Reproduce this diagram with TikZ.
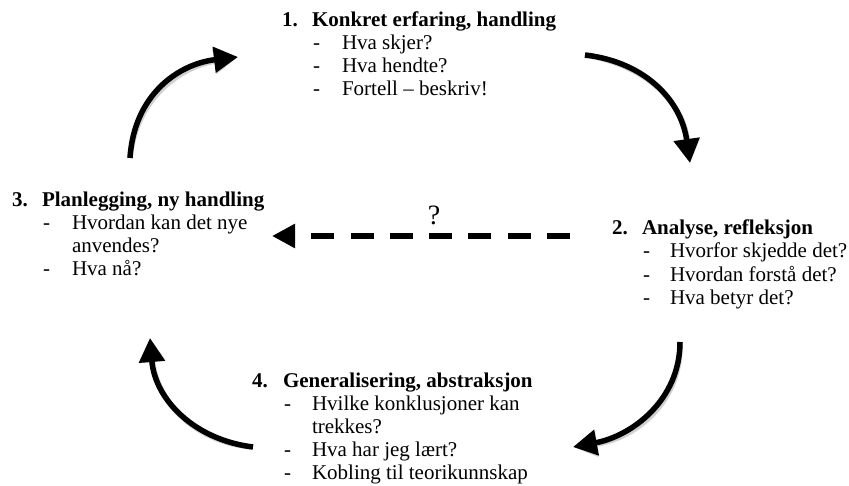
\documentclass[tikz,border=0pt]{standalone}
\usepackage{fontspec}
\setmainfont{Liberation Serif}
\usetikzlibrary{arrows.meta}
\begin{document}
\begin{tikzpicture}[x=1bp,y=-1bp,
  txt/.style={anchor=base west, inner sep=0, outer sep=0, font=\fontsize{21bp}{23bp}\selectfont},
  hd/.style={txt, font=\fontsize{21bp}{23bp}\selectfont\bfseries},
  cyc/.style={line width=5.5bp, -{Triangle[length=24bp,width=25bp]}},
  shade/.style={line width=5.5bp, draw=black, opacity=0.18, -{Triangle[length=24bp,width=25bp]}},
  dsh/.style={line width=5.5bp, dash pattern=on 23bp off 16.3bp, -{Triangle[length=23bp,width=23bp]}}]
\useasboundingbox (0,0) rectangle (849,486);

% Block 1
\node[hd] (n1) at (282,27) {1.};
\node[hd] (h1) at (312,27) {Konkret erfaring, handling};
\node[txt] (d1a) at (313,50) {-};  \node[txt] (t1a) at (342,50) {Hva skjer?};
\node[txt] (d1b) at (313,73) {-};  \node[txt] (t1b) at (342,73) {Hva hendte?};
\node[txt] (d1c) at (313,96) {-};  \node[txt] (t1c) at (342,96) {Fortell – beskriv!};

% Block 2
\node[hd] (n2) at (612,235) {2.};
\node[hd] (h2) at (642,235) {Analyse, refleksjon};
\node[txt] (d2a) at (643,258) {-};  \node[txt] (t2a) at (670,258) {Hvorfor skjedde det?};
\node[txt] (d2b) at (643,282) {-};  \node[txt] (t2b) at (670,282) {Hvordan forstå det?};
\node[txt] (d2c) at (643,305) {-};  \node[txt] (t2c) at (670,305) {Hva betyr det?};

% Block 3
\node[hd] (n3) at (12,207) {3.};
\node[hd] (h3) at (42,207) {Planlegging, ny handling};
\node[txt] (d3a) at (43,230) {-};  \node[txt] (t3a) at (72,230) {Hvordan kan det nye};
\node[txt] (t3b) at (72,253) {anvendes?};
\node[txt] (d3c) at (43,276) {-};  \node[txt] (t3c) at (72,276) {Hva nå?};

% Block 4
\node[hd] (n4) at (252,387) {4.};
\node[hd] (h4) at (283,387) {Generalisering, abstraksjon};
\node[txt] (d4a) at (284,410) {-};  \node[txt] (t4a) at (312,410) {Hvilke konklusjoner kan};
\node[txt] (t4b) at (312,433) {trekkes?};
\node[txt] (d4c) at (284,456) {-};  \node[txt] (t4c) at (312,456) {Hva har jeg lært?};
\node[txt] (d4d) at (284,479) {-};  \node[txt] (t4d) at (312,479) {Kobling til teorikunnskap};

% question mark
\node[txt, anchor=base, font=\fontsize{28bp}{30bp}\selectfont] (q) at (434,225) {?};

% arrow end points
\coordinate (a1s) at (130,158); \coordinate (a1e) at (238,57);
\coordinate (a2s) at (585,55);  \coordinate (a2e) at (690,163);
\coordinate (a3s) at (680,342); \coordinate (a3e) at (573,447);
\coordinate (a4s) at (253,447); \coordinate (a4e) at (150,338);
\coordinate (ds) at (570,236);  \coordinate (de) at (272,236);

% shadows
\begin{scope}[shift={(2,3)}]
\draw[shade] (a1s) .. controls (134,95) and (178,64) .. (a1e);
\draw[shade] (a2s) .. controls (645,62) and (681,100) .. (a2e);
\draw[shade] (a3s) .. controls (680,400) and (632,436) .. (a3e);
\draw[shade] (a4s) .. controls (195,440) and (155,400) .. (a4e);
\end{scope}

% cycle arrows
\draw[cyc] (a1s) .. controls (134,95) and (178,64) .. (a1e);
\draw[cyc] (a2s) .. controls (645,62) and (681,100) .. (a2e);
\draw[cyc] (a3s) .. controls (680,400) and (632,436) .. (a3e);
\draw[cyc] (a4s) .. controls (195,440) and (155,400) .. (a4e);

% dashed arrow
\draw[dsh] (ds) -- (de);
\end{tikzpicture}
\end{document}
